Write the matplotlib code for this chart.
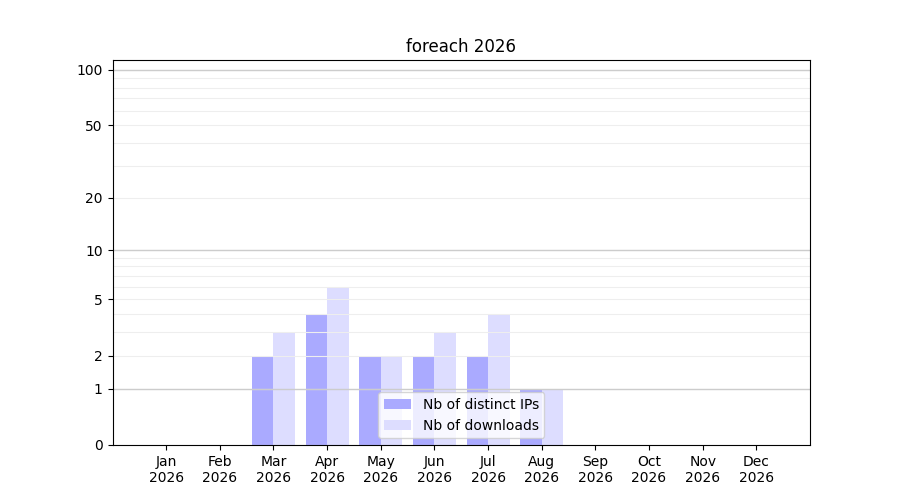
import numpy as np
import matplotlib
matplotlib.use('Agg')
import matplotlib.pyplot as plt

# monthly stats for 2026
months = ['Jan', 'Feb', 'Mar', 'Apr', 'May', 'Jun', 'Jul', 'Aug', 'Sep', 'Oct', 'Nov', 'Dec']
year = 2026
distinct_ips = [0, 0, 2, 4, 2, 2, 2, 1, 0, 0, 0, 0]
downloads = [0, 0, 3, 6, 2, 3, 4, 1, 0, 0, 0, 0]

major_ticks = [0, 1, 2, 5, 10, 20, 50, 100]
minor_ticks = [3, 4, 6, 7, 8, 9, 30, 40, 60, 70, 80, 90]
decade_lines = [1, 10, 100]

x = np.arange(1, len(months) + 1)
width = 0.4

fig, ax = plt.subplots(figsize=(9, 5), dpi=100)

ax.set_yscale('function', functions=(lambda v: np.log10(1 + np.clip(v, 0, None)),
                                     lambda v: 10 ** v - 1))

ax.bar(x - width, distinct_ips, width=width, align='edge', color='#aaaaff', label='Nb of distinct IPs')
ax.bar(x, downloads, width=width, align='edge', color='#ddddff', label='Nb of downloads')

ax.set_yticks(major_ticks)
ax.set_yticklabels([str(t) for t in major_ticks])
ax.set_yticks(minor_ticks, minor=True)
ax.tick_params(axis='y', which='minor', length=0)
ax.grid(True, axis='y', which='both', color='#eeeeee', linewidth=0.8)
for v in decade_lines:
    ax.axhline(v, color='#cccccc', linewidth=1.0, zorder=1.6)

ax.set_xticks(x)
ax.set_xticklabels([f'{m}\n{year}' for m in months])
ax.set_xlim(0, 13)
ax.set_ylim(0, 113)

ax.set_title(f'foreach {year}')
ax.legend(loc='lower center')

fig.savefig('out.png')
